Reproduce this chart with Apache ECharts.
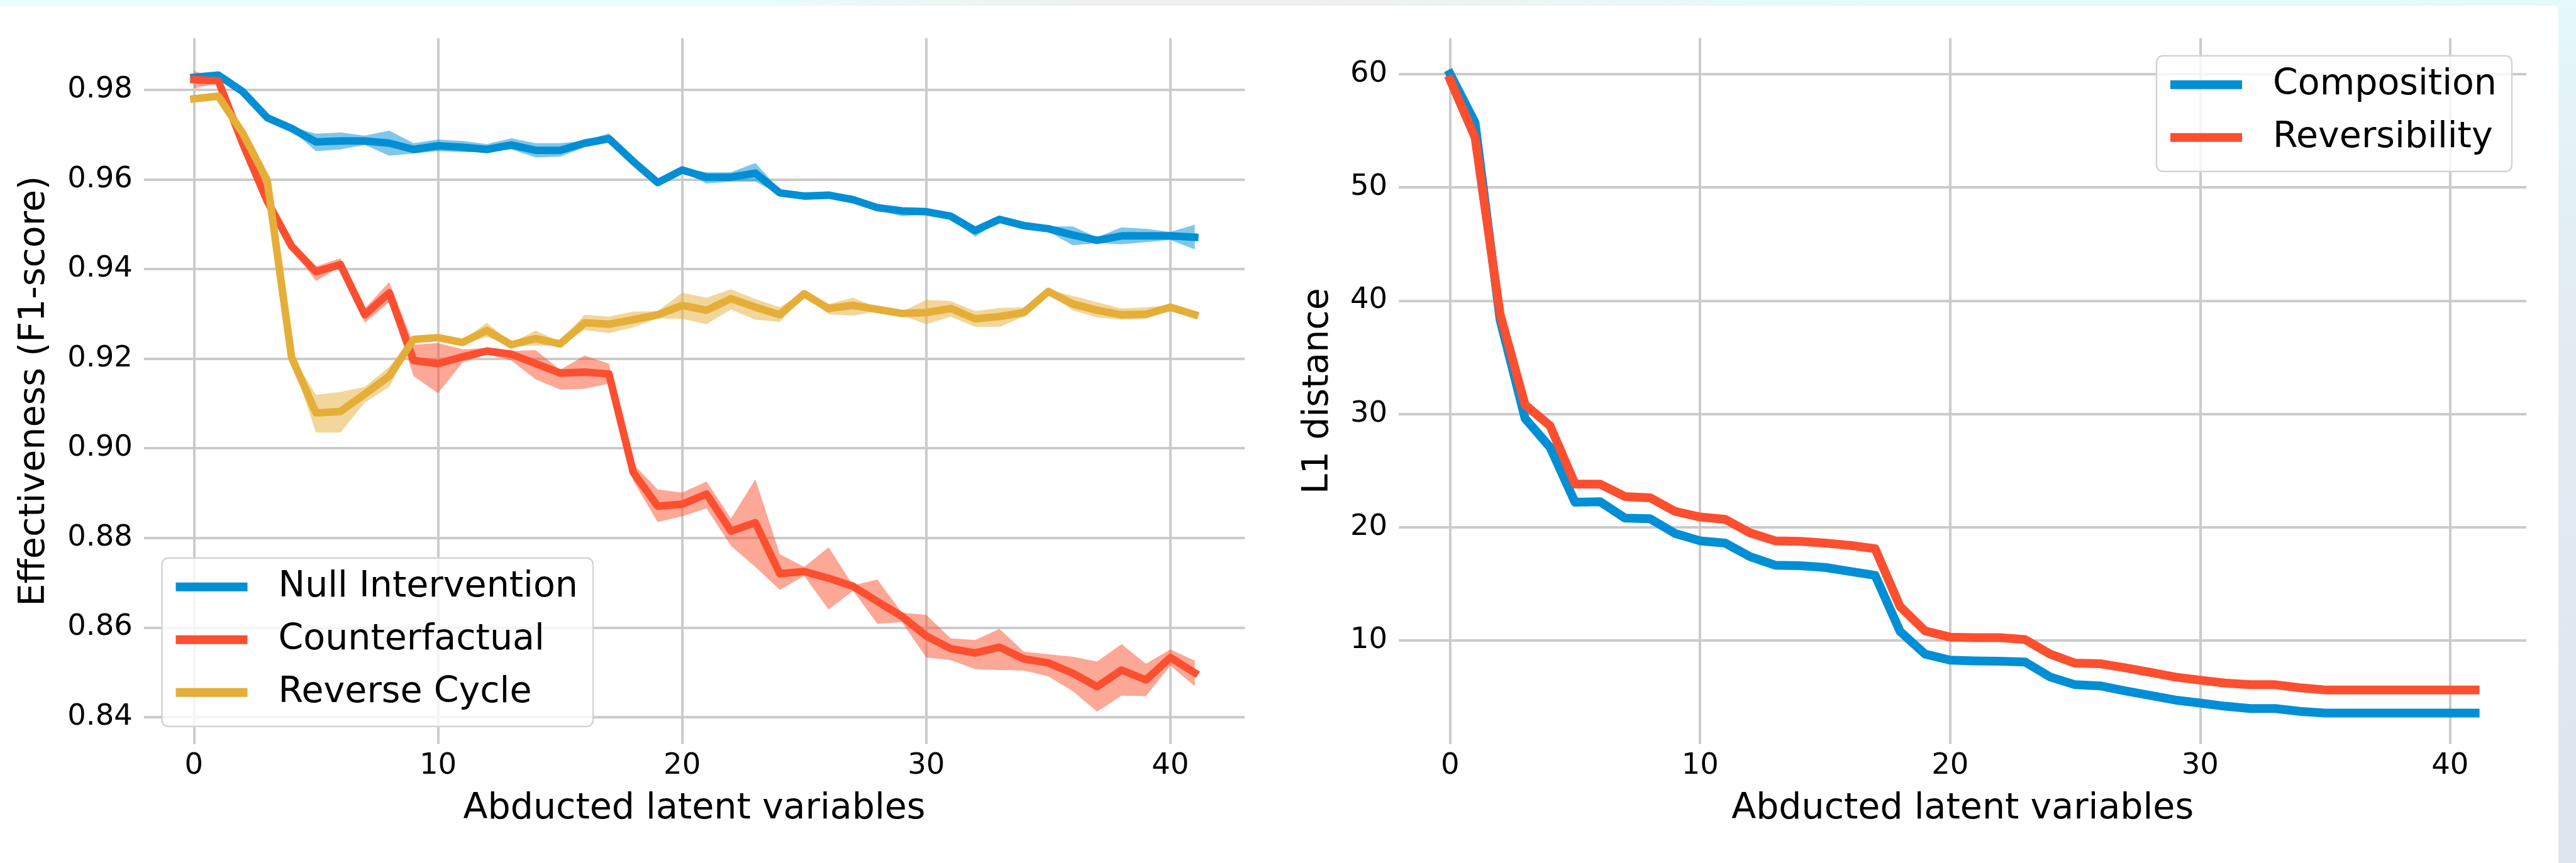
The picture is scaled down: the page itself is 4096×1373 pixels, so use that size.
<!DOCTYPE html>
<html>
<head>
<meta charset="utf-8">
<script src="https://cdn.jsdelivr.net/npm/echarts@6/dist/echarts.min.js"></script>
<style>
html,body{margin:0;padding:0;width:4096px;height:1373px;overflow:hidden;}
body{background:linear-gradient(90deg,#e8fcfc 0%,#e8fcfc 30%,#eef1ee 42%,#eff0ee 52%,#e6fafa 68%,#e4fafa 100%);}
#paper{position:absolute;left:0;top:9px;width:4068px;height:1364px;background:#ffffff;}
#strip{position:absolute;left:4068px;top:9px;width:28px;height:1364px;background:linear-gradient(180deg,#e4f8fa 0%,#e3ecf2 35%,#dde5ef 100%);}
#chart{position:absolute;left:0;top:0;width:4096px;height:1373px;}
</style>
</head>
<body>
<div id="paper"></div><div id="strip"></div><div id="chart"></div>
<script>
// ---------- data ----------
const steps = [0,1,2,3,4,5,6,7,8,9,10,11,12,13,14,15,16,17,18,19,20,21,22,23,24,25,26,27,28,29,30,31,32,33,34,35,36,37,38,39,40,41];
const xTicks = [0,10,20,30,40];
const leftYTicks = [0.84,0.86,0.88,0.90,0.92,0.94,0.96,0.98];
const rightYTicks = [10,20,30,40,50,60];

const nullMean = [0.9828,0.9833,0.9796,0.9738,0.9714,0.9684,0.9686,0.9686,0.9681,0.9667,0.9675,0.9672,0.9667,0.9677,0.9665,0.9665,0.9681,0.9691,0.9640,0.9593,0.9621,0.9605,0.9605,0.9614,0.9570,0.9563,0.9565,0.9555,0.9537,0.9530,0.9528,0.9518,0.9486,0.9511,0.9497,0.9490,0.9476,0.9464,0.9474,0.9474,0.9474,0.9471];
const nullLo   = [0.9823,0.9829,0.9792,0.9734,0.9710,0.9663,0.9667,0.9677,0.9653,0.9658,0.9663,0.9661,0.9661,0.9667,0.9649,0.9651,0.9672,0.9682,0.9636,0.9588,0.9617,0.9591,0.9595,0.9595,0.9567,0.9559,0.9561,0.9551,0.9532,0.9518,0.9522,0.9514,0.9472,0.9507,0.9493,0.9484,0.9453,0.9458,0.9455,0.9460,0.9465,0.9444];
const nullHi   = [0.9833,0.9838,0.9800,0.9742,0.9717,0.9702,0.9705,0.9698,0.9709,0.9681,0.9689,0.9686,0.9679,0.9692,0.9681,0.9681,0.9686,0.9703,0.9644,0.9598,0.9625,0.9616,0.9616,0.9637,0.9577,0.9567,0.9569,0.9559,0.9542,0.9535,0.9532,0.9522,0.9495,0.9515,0.9501,0.9495,0.9495,0.9471,0.9493,0.9490,0.9483,0.9499];

const cfMean = [0.9823,0.9820,0.9680,0.9552,0.9451,0.9394,0.9410,0.9298,0.9347,0.9196,0.9189,0.9204,0.9217,0.9210,0.9189,0.9168,0.9170,0.9166,0.8946,0.8871,0.8875,0.8898,0.8815,0.8834,0.8720,0.8725,0.8710,0.8692,0.8658,0.8625,0.8581,0.8553,0.8543,0.8556,0.8530,0.8521,0.8498,0.8468,0.8505,0.8483,0.8533,0.8499];
const cfLo   = [0.9803,0.9815,0.9675,0.9547,0.9446,0.9373,0.9406,0.9280,0.9326,0.9161,0.9123,0.9191,0.9210,0.9196,0.9154,0.9131,0.9133,0.9144,0.8927,0.8835,0.8848,0.8866,0.8782,0.8735,0.8684,0.8715,0.8640,0.8682,0.8608,0.8612,0.8533,0.8527,0.8507,0.8505,0.8504,0.8491,0.8458,0.8412,0.8448,0.8447,0.8515,0.8469];
const cfHi   = [0.9842,0.9825,0.9685,0.9557,0.9456,0.9406,0.9424,0.9312,0.9371,0.9231,0.9235,0.9221,0.9224,0.9217,0.9219,0.9175,0.9207,0.9189,0.8965,0.8908,0.8901,0.8926,0.8843,0.8931,0.8764,0.8735,0.8779,0.8694,0.8707,0.8633,0.8628,0.8576,0.8572,0.8597,0.8546,0.8540,0.8535,0.8524,0.8563,0.8519,0.8551,0.8526];

const rcMean = [0.9780,0.9786,0.9703,0.9598,0.9203,0.9079,0.9082,0.9121,0.9161,0.9243,0.9247,0.9236,0.9263,0.9231,0.9245,0.9233,0.9280,0.9277,0.9287,0.9298,0.9319,0.9308,0.9334,0.9315,0.9298,0.9345,0.9312,0.9319,0.9310,0.9301,0.9303,0.9312,0.9289,0.9294,0.9303,0.9350,0.9322,0.9308,0.9298,0.9299,0.9315,0.9298];
const rcLo   = [0.9772,0.9782,0.9699,0.9594,0.9199,0.9035,0.9035,0.9102,0.9137,0.9239,0.9243,0.9232,0.9249,0.9227,0.9229,0.9229,0.9264,0.9257,0.9270,0.9290,0.9289,0.9277,0.9310,0.9287,0.9282,0.9341,0.9299,0.9296,0.9306,0.9297,0.9277,0.9294,0.9271,0.9271,0.9294,0.9346,0.9308,0.9292,0.9287,0.9289,0.9311,0.9294];
const rcHi   = [0.9788,0.9790,0.9707,0.9602,0.9207,0.9119,0.9126,0.9137,0.9182,0.9247,0.9251,0.9240,0.9280,0.9235,0.9263,0.9237,0.9298,0.9294,0.9305,0.9306,0.9347,0.9336,0.9355,0.9333,0.9315,0.9349,0.9322,0.9336,0.9314,0.9305,0.9331,0.9329,0.9306,0.9313,0.9315,0.9354,0.9340,0.9326,0.9312,0.9315,0.9319,0.9302];

const compMean = [60.0,55.7,38.3,29.6,27.05,22.2,22.25,20.8,20.75,19.45,18.8,18.6,17.4,16.65,16.6,16.45,16.1,15.75,10.8,8.8,8.27,8.2,8.17,8.1,6.78,6.1,6.0,5.56,5.16,4.75,4.48,4.2,4.0,4.0,3.75,3.6,3.6,3.6,3.6,3.6,3.6,3.6];
const revMean  = [59.5,54.4,38.8,30.8,28.95,23.8,23.8,22.7,22.6,21.4,20.9,20.7,19.5,18.8,18.75,18.6,18.4,18.1,13.0,10.85,10.3,10.25,10.25,10.08,8.8,8.0,7.95,7.6,7.2,6.78,6.5,6.24,6.1,6.1,5.83,5.64,5.64,5.64,5.64,5.64,5.64,5.64];

// ---------- styling ----------
const FONT = 'DejaVu Sans';
const BLUE = '#008fd5', RED = '#fc4f30', YEL = '#e5ae38';
const GRID_COLOR = '#cbcbcb';

function lineSeries(name, vals, color, width, xi, yi) {
  return {
    name: name, type: 'line', xAxisIndex: xi, yAxisIndex: yi,
    data: steps.map((s, i) => [s, vals[i]]),
    symbol: 'none', showSymbol: false, silent: true, animation: false,
    color: color, itemStyle: {color: color},
    lineStyle: {color: color, width: width, join: 'round', cap: 'square'}
  };
}
function bandSeries(name, lo, hi, fill, xi, yi) {
  return {
    name: name, type: 'custom', xAxisIndex: xi, yAxisIndex: yi, silent: true, animation: false,
    data: steps.map((s, i) => [s, lo[i], hi[i]]),
    encode: {x: 0, y: [1, 2]},
    renderItem: function (params, api) {
      if (params.dataIndex !== 0) return null;
      const pts = [];
      for (let i = 0; i < steps.length; i++) pts.push(api.coord([steps[i], hi[i]]));
      for (let i = steps.length - 1; i >= 0; i--) pts.push(api.coord([steps[i], lo[i]]));
      return {type: 'polygon', shape: {points: pts}, style: {fill: fill, stroke: null}};
    }
  };
}
function xAxis(gi) {
  return {
    type: 'value', gridIndex: gi, min: -2.05, max: 43.05,
    axisLine: {show: false},
    axisTick: {show: false, customValues: xTicks},
    axisLabel: {customValues: xTicks, fontSize: 46.5, color: '#000', margin: 12, fontFamily: FONT},
    splitLine: {show: true, lineStyle: {color: GRID_COLOR, width: 4}},
    name: 'Abducted latent variables', nameLocation: 'middle', nameGap: 75,
    nameTextStyle: {fontSize: 57, color: '#000', fontFamily: FONT}
  };
}
function yAxis(gi, min, max, ticks, fmt, name, gap) {
  return {
    type: 'value', gridIndex: gi, min: min, max: max,
    axisLine: {show: false},
    axisTick: {show: false, customValues: ticks},
    axisLabel: {customValues: ticks, fontSize: 46.5, color: '#000', margin: 18, fontFamily: FONT, formatter: fmt},
    splitLine: {show: true, lineStyle: {color: GRID_COLOR, width: 4}},
    name: name, nameLocation: 'middle', nameGap: gap,
    nameTextStyle: {fontSize: 57, color: '#000', fontFamily: FONT}
  };
}
function legend(names, left, top) {
  return {
    data: names, orient: 'vertical', left: left, top: top,
    icon: 'rect', itemWidth: 114, itemHeight: 14, itemGap: 24,
    padding: [16, 24, 24, 22],
    backgroundColor: 'rgba(255,255,255,0.8)', borderColor: '#d4d4d4', borderWidth: 2.5, borderRadius: 10,
    selectedMode: false,
    textStyle: {fontSize: 57, lineHeight: 60, color: '#000', fontFamily: FONT, padding: [0, 0, 0, 44]}
  };
}

const chart = echarts.init(document.getElementById('chart'), null, {renderer: 'canvas'});
chart.setOption({
  backgroundColor: 'transparent',
  animation: false,
  textStyle: {fontFamily: FONT},
  grid: [
    {left: 228.8, top: 60.4, width: 1750.5, height: 1123.4, containLabel: false, outerBoundsMode: 'none'},
    {left: 2224.2, top: 60.4, width: 1792.9, height: 1123.4, containLabel: false, outerBoundsMode: 'none'}
  ],
  xAxis: [xAxis(0), xAxis(1)],
  yAxis: [
    yAxis(0, 0.83398, 0.99158, leftYTicks, v => Number(v).toFixed(2), 'Effectiveness (F1-score)', 145),
    yAxis(1, 0.86, 63.18, rightYTicks, v => String(Math.round(v)), 'L1 distance', 100)
  ],
  legend: [
    legend(['Null Intervention', 'Counterfactual', 'Reverse Cycle'], 257.5, 887.7),
    legend(['Composition', 'Reversibility'], 3429, 88.7)
  ],
  series: [
    lineSeries('Null Intervention', nullMean, BLUE, 12, 0, 0),
    bandSeries('Null Intervention band', nullLo, nullHi, 'rgba(0,143,213,0.5)', 0, 0),
    lineSeries('Counterfactual', cfMean, RED, 12, 0, 0),
    bandSeries('Counterfactual band', cfLo, cfHi, 'rgba(252,79,48,0.5)', 0, 0),
    lineSeries('Reverse Cycle', rcMean, YEL, 12, 0, 0),
    bandSeries('Reverse Cycle band', rcLo, rcHi, 'rgba(229,174,56,0.5)', 0, 0),
    lineSeries('Composition', compMean, BLUE, 14, 1, 1),
    lineSeries('Reversibility', revMean, RED, 14, 1, 1)
  ]
});
</script>
</body>
</html>
